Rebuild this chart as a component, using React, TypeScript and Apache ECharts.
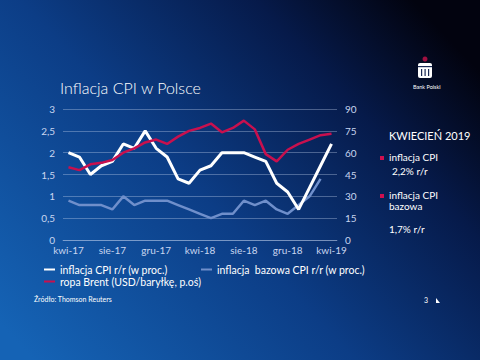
import React, { useEffect, useRef } from "react";
import * as echarts from "echarts";

const months = [
  "kwi-17", "maj-17", "cze-17", "lip-17", "sie-17", "wrz-17", "paź-17", "lis-17", "gru-17",
  "sty-18", "lut-18", "mar-18", "kwi-18", "maj-18", "cze-18", "lip-18", "sie-18", "wrz-18",
  "paź-18", "lis-18", "gru-18", "sty-19", "lut-19", "mar-19", "kwi-19",
];
const cpi = [2.0, 1.9, 1.5, 1.7, 1.8, 2.2, 2.1, 2.5, 2.1, 1.9, 1.4, 1.3, 1.6, 1.7, 2.0, 2.0, 2.0, 1.9, 1.8, 1.3, 1.1, 0.7, 1.2, 1.7, 2.2];
const core = [0.9, 0.8, 0.8, 0.8, 0.7, 1.0, 0.8, 0.9, 0.9, 0.9, 0.8, 0.7, 0.6, 0.5, 0.6, 0.6, 0.9, 0.8, 0.9, 0.7, 0.6, 0.8, 1.0, 1.4, null];
const brent = [50, 48, 52, 53, 55, 60, 63, 67, 69, 66, 71, 75, 77, 80, 74, 77, 82, 76, 59, 54, 62, 66, 69, 72, 73];

const seriesNames = [
  "inflacja CPI r/r (w proc.)",
  "inflacja  bazowa CPI r/r (w proc.)",
  "ropa Brent (USD/baryłkę, p.oś)",
];

const FONT = "Lato, 'Noto Sans', sans-serif";

export default function App() {
  const ref = useRef<HTMLDivElement>(null);
  useEffect(() => {
    if (!ref.current) return;
    const chart = echarts.init(ref.current, undefined, { renderer: "svg" });
    const legendText = { color: "#ffffff", fontSize: 10.5, fontFamily: FONT };
    const mkLegend = (name: string, left: number, top: number) => ({
      show: true,
      data: [name],
      left,
      top,
      icon: "rect",
      itemWidth: 11,
      itemHeight: 2,
      itemGap: 0,
      padding: 0,
      itemStyle: { borderWidth: 0 },
      lineStyle: { width: 0 },
      textStyle: legendText,
      selectedMode: false,
    });
    chart.setOption({
      animation: false,
      backgroundColor: new echarts.graphic.LinearGradient(0, 0.9, 1, 0.2, [
        { offset: 0, color: "#1563b5" },
        { offset: 0.45, color: "#0c3d86" },
        { offset: 0.78, color: "#061a4a" },
        { offset: 1, color: "#02030f" },
      ]),
      textStyle: { fontFamily: FONT },
      grid: { left: 63, right: 143, top: 109, bottom: 120 },
      legend: [
        mkLegend(seriesNames[0], 44, 264),
        mkLegend(seriesNames[1], 201, 264),
        mkLegend(seriesNames[2], 44, 276),
      ],
      xAxis: {
        type: "category",
        data: months,
        boundaryGap: true,
        axisTick: { show: false },
        axisLine: { show: true, lineStyle: { color: "rgba(200,215,240,0.35)", width: 1 } },
        axisLabel: { interval: 3, color: "#c9d6f0", fontSize: 10, margin: 5, fontFamily: FONT },
      },
      yAxis: [
        {
          type: "value",
          min: 0,
          max: 3,
          interval: 0.5,
          axisLine: { show: false },
          axisTick: { show: false },
          splitLine: { lineStyle: { color: "rgba(200,215,240,0.35)", width: 1 } },
          axisLabel: {
            color: "#c9d6f0",
            fontSize: 10,
            margin: 8,
            fontFamily: FONT,
            formatter: (v: number) => String(v).replace(".", ","),
          },
        },
        {
          type: "value",
          min: 0,
          max: 90,
          interval: 15,
          axisLine: { show: false },
          axisTick: { show: false },
          splitLine: { show: false },
          axisLabel: { color: "#c9d6f0", fontSize: 10, margin: 8, fontFamily: FONT },
        },
      ],
      series: [
        {
          name: seriesNames[1],
          type: "line",
          data: core,
          symbol: "none",
          lineStyle: { color: "#6f8fcb", width: 2.5 },
          itemStyle: { color: "#6f8fcb" },
        },
        {
          name: seriesNames[0],
          type: "line",
          data: cpi,
          symbol: "none",
          lineStyle: { color: "#ffffff", width: 3 },
          itemStyle: { color: "#ffffff" },
        },
        {
          name: seriesNames[2],
          type: "line",
          yAxisIndex: 1,
          data: brent,
          symbol: "none",
          lineStyle: { color: "#c8104e", width: 2.5 },
          itemStyle: { color: "#c8104e" },
        },
      ],
      graphic: [
        {
          type: "text",
          left: 60,
          top: 79,
          style: { text: "Inflacja CPI w Polsce", fill: "#ffffff", fontSize: 16, fontWeight: 300, fontFamily: FONT },
        },
        {
          type: "text",
          left: 34,
          top: 295,
          style: { text: "Źródło: Thomson Reuters", fill: "#ffffff", fontSize: 7, fontFamily: FONT },
        },
        // right panel
        {
          type: "text",
          left: 389,
          top: 130,
          style: { text: "KWIECIEŃ 2019", fill: "#ffffff", fontSize: 11, fontFamily: FONT },
        },
        { type: "rect", shape: { x: 380, y: 156, width: 4, height: 4 }, style: { fill: "#d0104f" } },
        {
          type: "text",
          left: 389,
          top: 152,
          style: { text: "inflacja CPI", fill: "#ffffff", fontSize: 10, fontFamily: FONT },
        },
        {
          type: "text",
          left: 392,
          top: 166,
          style: { text: "2,2% r/r", fill: "#ffffff", fontSize: 10, fontFamily: FONT },
        },
        { type: "rect", shape: { x: 380, y: 194, width: 4, height: 4 }, style: { fill: "#d0104f" } },
        {
          type: "text",
          left: 389,
          top: 190,
          style: { text: "inflacja CPI", fill: "#ffffff", fontSize: 10, fontFamily: FONT },
        },
        {
          type: "text",
          left: 389,
          top: 201,
          style: { text: "bazowa", fill: "#ffffff", fontSize: 10, fontFamily: FONT },
        },
        {
          type: "text",
          left: 389,
          top: 224,
          style: { text: "1,7% r/r", fill: "#ffffff", fontSize: 10, fontFamily: FONT },
        },
        // page number
        {
          type: "text",
          left: 424,
          top: 296,
          style: { text: "3", fill: "#ffffff", fontSize: 7, fontFamily: FONT },
        },
        {
          type: "polygon",
          shape: { points: [[436, 298], [436, 303], [440, 303]] },
          style: { fill: "#ffffff" },
        },
        // logo
        { type: "circle", shape: { cx: 425, cy: 59, r: 2.5 }, style: { fill: "#a01040" } },
        { type: "rect", shape: { x: 418, y: 63, width: 14, height: 15, r: 2 }, style: { fill: "#ffffff" } },
        { type: "rect", shape: { x: 418, y: 66, width: 14, height: 1.2 }, style: { fill: "#1a2a55" } },
        { type: "rect", shape: { x: 421, y: 69, width: 1.2, height: 7 }, style: { fill: "#1a2a55" } },
        { type: "rect", shape: { x: 424.5, y: 69, width: 1.2, height: 7 }, style: { fill: "#1a2a55" } },
        { type: "rect", shape: { x: 428, y: 69, width: 1.2, height: 7 }, style: { fill: "#1a2a55" } },
        {
          type: "text",
          left: 413,
          top: 84,
          style: { text: "Bank Polski", fill: "#ffffff", fontSize: 5.5, fontFamily: FONT },
        },
      ],
    });
    return () => chart.dispose();
  }, []);
  return (
    <div
      ref={ref}
      style={{ position: "absolute", left: 0, top: 0, width: 480, height: 360 }}
    />
  );
}
